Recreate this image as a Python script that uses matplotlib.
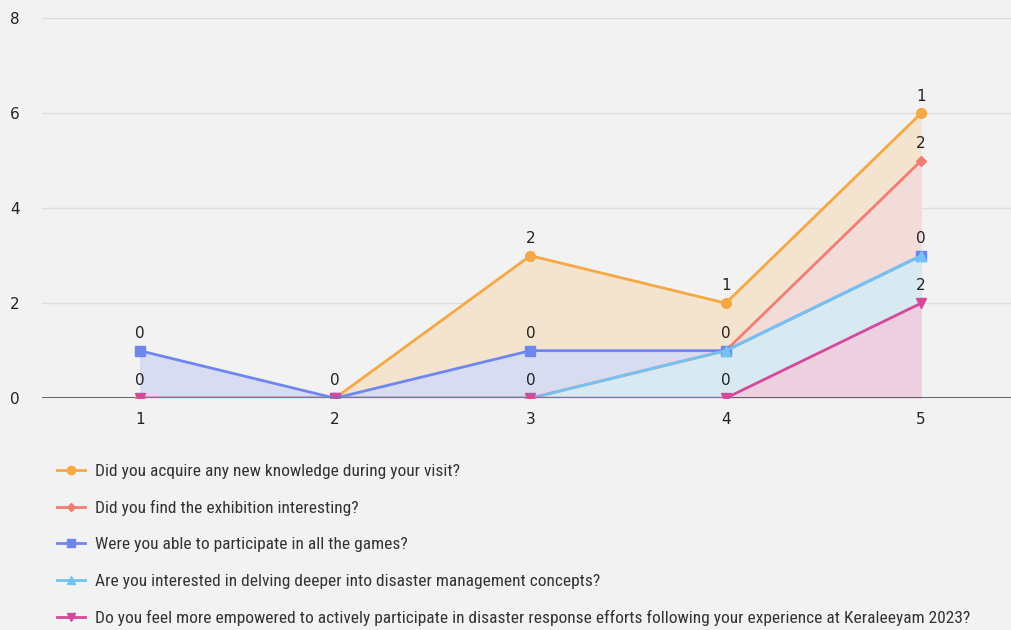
import matplotlib.pyplot as plt
from matplotlib.lines import Line2D
import matplotlib.colors as mc
import matplotlib.font_manager as fm

x = [1, 2, 3, 4, 5]
knowledge = [0, 0, 3, 2, 6]
exhibition = [0, 0, 0, 1, 5]
games = [1, 0, 1, 1, 3]
deeper = [0, 0, 0, 1, 3]
empowered = [0, 0, 0, 0, 2]

# data labels as shown on the chart (None = no label)
knowledge_lbl = [None, None, 2, 1, 1]
exhibition_lbl = [None, None, None, None, 2]
games_lbl = [0, None, 0, 0, None]
deeper_lbl = [None, None, None, None, 0]
empowered_lbl = [0, 0, 0, 0, 2]

names = [
    "Did you acquire any new knowledge during your visit?",
    "Did you find the exhibition interesting?",
    "Were you able to participate in all the games?",
    "Are you interested in delving deeper into disaster management concepts?",
    "Do you feel more empowered to actively participate in disaster response efforts following your experience at Keraleeyam 2023?",
]

names_font = 'DejaVu Sans'
for f in ['Liberation Sans Narrow', 'Roboto Condensed', 'DejaVu Sans Condensed']:
    try:
        fm.findfont(f, fallback_to_default=False)
        names_font = f
        break
    except Exception:
        pass

bg = '#f2f2f2'
fig = plt.figure(figsize=(10.11, 6.3), dpi=100, facecolor=bg)
ax = fig.add_axes([0.0415, 0.368, 0.9585, 0.603])
ax.set_facecolor(bg)

series = [
    (knowledge, knowledge_lbl, '#f5a843', 'o', 7),
    (exhibition, exhibition_lbl, '#f27d72', 'D', 5),
    (games, games_lbl, '#6f86ee', 's', 7),
    (deeper, deeper_lbl, '#71c3f2', '^', 7),
    (empowered, empowered_lbl, '#d5489a', 'v', 7),
]


def pale(c, a=0.2):
    r1 = mc.to_rgb(c)
    r0 = mc.to_rgb(bg)
    return tuple(a * p + (1 - a) * q for p, q in zip(r1, r0))


handles = []
for i, ((vals, lbls, col, mk, ms), name) in enumerate(zip(series, names)):
    ax.fill_between(x, vals, 0, color=pale(col), lw=0, zorder=1 + i * 0.1)
    ax.plot(x, vals, color=col, lw=2, marker=mk, ms=ms, zorder=3 + i * 0.1)
    for xi, v, l in zip(x, vals, lbls):
        if l is not None:
            ax.annotate(str(l), (xi, v), xytext=(0, 7), textcoords='offset points',
                        ha='center', va='bottom', fontsize=11, color='#222222')
    handles.append(Line2D([0], [0], color=col, lw=2, marker=mk, ms=ms - 1, label=name))

ax.set_xlim(0.5, 5.46)
ax.set_ylim(0, 8)
ax.set_yticks([0, 2, 4, 6, 8])
ax.set_xticks(x)
ax.grid(axis='y', color='#dddddd', lw=1)
ax.set_axisbelow(True)
ax.axhline(0, color='#555555', lw=1.3, zorder=2.9)
for s in ax.spines.values():
    s.set_visible(False)
ax.tick_params(length=0, labelsize=11, colors='#222222')
ax.tick_params(axis='y', pad=23)
ax.tick_params(axis='x', pad=10)
for t in ax.get_yticklabels():
    t.set_ha('left')

leg = fig.legend(handles=handles, loc='upper left', bbox_to_anchor=(0.0564, 0.264),
                 frameon=False, labelspacing=1.22, handlelength=1.6, handletextpad=0.6,
                 borderpad=0, borderaxespad=0,
                 prop={'family': names_font, 'size': 12.5})
for t in leg.get_texts():
    t.set_color('#333333')

fig.savefig('out.png', dpi=100, facecolor=bg)
